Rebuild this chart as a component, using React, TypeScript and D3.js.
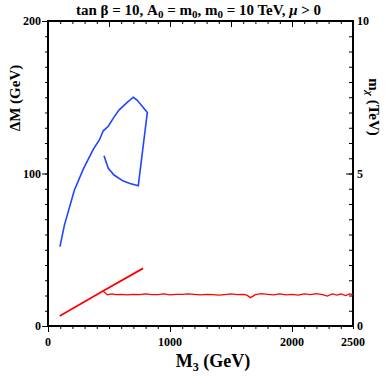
import React, { useEffect, useRef } from "react";
import * as d3 from "d3";

// blue curve: Delta M (GeV) vs M3 (GeV), left axis
const blueM3 = [98, 134, 216, 290, 372, 421, 453, 494, 541, 582, 640, 699, 732, 814, 740, 672, 617, 541, 494, 459];
const blueDM = [52, 66, 89, 103, 116, 122, 128, 131, 137, 141.6, 146, 150, 148, 140, 92, 93.5, 95, 99, 103.4, 111.7];

// red lines: m_chi (TeV) vs M3 (GeV), right axis
const redUpperM3 = [96, 451, 779];
const redUpperMchi = [0.33, 1.15, 1.89];

const redFlatM3 = [451, 486, 520, 560, 600, 650, 700, 750, 800, 850, 900, 950, 1000, 1050, 1100, 1150, 1200, 1250, 1300, 1350, 1400, 1450, 1500, 1550, 1600, 1630, 1660, 1700, 1750, 1800, 1850, 1900, 1950, 2000, 2050, 2100, 2150, 2200, 2250, 2290, 2330, 2370, 2400, 2440, 2470, 2500];
const redFlatMchi = [1.15, 1.02, 1.05, 1.03, 1.04, 1.02, 1.04, 1.03, 1.05, 1.03, 1.03, 1.05, 1.02, 1.04, 1.04, 1.05, 1.04, 1.02, 1.04, 1.03, 1.01, 1.03, 1.05, 1.03, 1.04, 1.01, 0.93, 1.03, 1.06, 1.04, 1.02, 1.05, 1.02, 1.04, 1.01, 1.05, 1.03, 1.06, 1.03, 0.98, 1.05, 1.01, 1.05, 1.00, 1.05, 1.03];

const leftLabels = [0, 100, 200];
const rightLabels = [0, 5, 10];
const bottomLabels = [0, 1000, 2000, 2500];

const W = 391;
const H = 381;
const L = 48, R = 353, T = 21, B = 326;
const FONT = "'Liberation Serif', 'Times New Roman', serif";

export default function App() {
  const gRef = useRef<SVGGElement>(null);

  useEffect(() => {
    const svg = d3.select(gRef.current);
    svg.selectAll("*").remove();

    const x = d3.scaleLinear().domain([0, 2500]).range([L, R]);
    const yL = d3.scaleLinear().domain([0, 200]).range([B, T]);
    const yR = d3.scaleLinear().domain([0, 10]).range([B, T]);

    const styleAxis = (g: any) => {
      g.select(".domain").remove();
      g.selectAll("line").attr("stroke", "#000").attr("stroke-width", 1);
      g.selectAll("text").remove();
    };

    // ticks: minor + major on each side
    svg.append("g").attr("transform", `translate(${L},0)`)
      .call(d3.axisLeft(yL).tickValues(d3.range(0, 201, 10)).tickSize(3)).call(styleAxis);
    svg.append("g").attr("transform", `translate(${L},0)`)
      .call(d3.axisLeft(yL).tickValues(leftLabels).tickSize(6)).call(styleAxis);
    svg.append("g").attr("transform", `translate(${R},0)`)
      .call(d3.axisLeft(yR).tickValues(d3.range(0, 10.01, 0.5)).tickSize(4)).call(styleAxis);
    svg.append("g").attr("transform", `translate(${R},0)`)
      .call(d3.axisLeft(yR).tickValues(rightLabels).tickSize(7)).call(styleAxis);
    svg.append("g").attr("transform", `translate(0,${B})`)
      .call(d3.axisBottom(x).tickValues(d3.range(0, 2501, 100)).tickSize(3)).call(styleAxis);
    svg.append("g").attr("transform", `translate(0,${B})`)
      .call(d3.axisBottom(x).tickValues([0, 1000, 2000]).tickSize(6)).call(styleAxis);
    svg.append("g").attr("transform", `translate(0,${T})`)
      .call(d3.axisBottom(x).tickValues(d3.range(0, 2501, 100)).tickSize(3)).call(styleAxis);
    svg.append("g").attr("transform", `translate(0,${T})`)
      .call(d3.axisBottom(x).tickValues(d3.range(0, 2501, 500)).tickSize(6)).call(styleAxis);

    // frame
    svg.append("rect").attr("x", L).attr("y", T).attr("width", R - L).attr("height", B - T)
      .attr("fill", "none").attr("stroke", "#000").attr("stroke-width", 2);

    const txt = (xx: number, yy: number, s: string, anchor: string) =>
      svg.append("text").attr("x", xx).attr("y", yy).attr("font-family", FONT)
        .attr("font-weight", "bold").attr("font-size", 12).attr("text-anchor", anchor)
        .attr("dominant-baseline", "central").text(s);

    leftLabels.forEach(v => txt(L - 7, yL(v), String(v), "end"));
    rightLabels.forEach(v => txt(R + 4, yR(v), String(v), "start"));
    bottomLabels.forEach(v => txt(x(v), B + 16, String(v), "middle"));

    // lines
    const blue = blueM3.map((m, i) => [x(m), yL(blueDM[i])] as [number, number]);
    const redU = redUpperM3.map((m, i) => [x(m), yR(redUpperMchi[i])] as [number, number]);
    const redF = redFlatM3.map((m, i) => [x(m), yR(redFlatMchi[i])] as [number, number]);
    const line = d3.line();
    svg.append("path").attr("d", line(blue)).attr("fill", "none").attr("stroke", "#2244ff").attr("stroke-width", 1.6);
    svg.append("path").attr("d", line(redU)).attr("fill", "none").attr("stroke", "#ff0000").attr("stroke-width", 1.8);
    svg.append("path").attr("d", line(redF)).attr("fill", "none").attr("stroke", "#ff0000").attr("stroke-width", 1.3);
  }, []);

  return (
    <svg width={W} height={H} style={{ position: "fixed", left: 0, top: 0, background: "#fff" }}
      fontFamily={FONT} fontWeight="bold">
      <g ref={gRef} />
      <text x={76} y={15} fontSize={15}>
        tan β  = 10, A<tspan fontSize={11} dy={3}>0</tspan>
        <tspan dy={-3}> = m</tspan><tspan fontSize={11} dy={3}>0</tspan>
        <tspan dy={-3}>, m</tspan><tspan fontSize={11} dy={3}>0</tspan>
        <tspan dy={-3}> = 10 TeV, </tspan><tspan fontStyle="italic">μ</tspan> &gt; 0
      </text>
      <text transform="translate(20,98) rotate(-90)" textAnchor="middle" fontSize={15}>ΔM (GeV)</text>
      <text transform="translate(369,107) rotate(90)" textAnchor="middle" fontSize={15}>
        m<tspan fontSize={11} dy={3} fontStyle="italic">χ</tspan><tspan dy={-3}> (TeV)</tspan>
      </text>
      <text x={213} y={367} textAnchor="middle" fontSize={18}>
        M<tspan fontSize={12} dy={4}>3</tspan><tspan dy={-4}> (GeV)</tspan>
      </text>
    </svg>
  );
}
